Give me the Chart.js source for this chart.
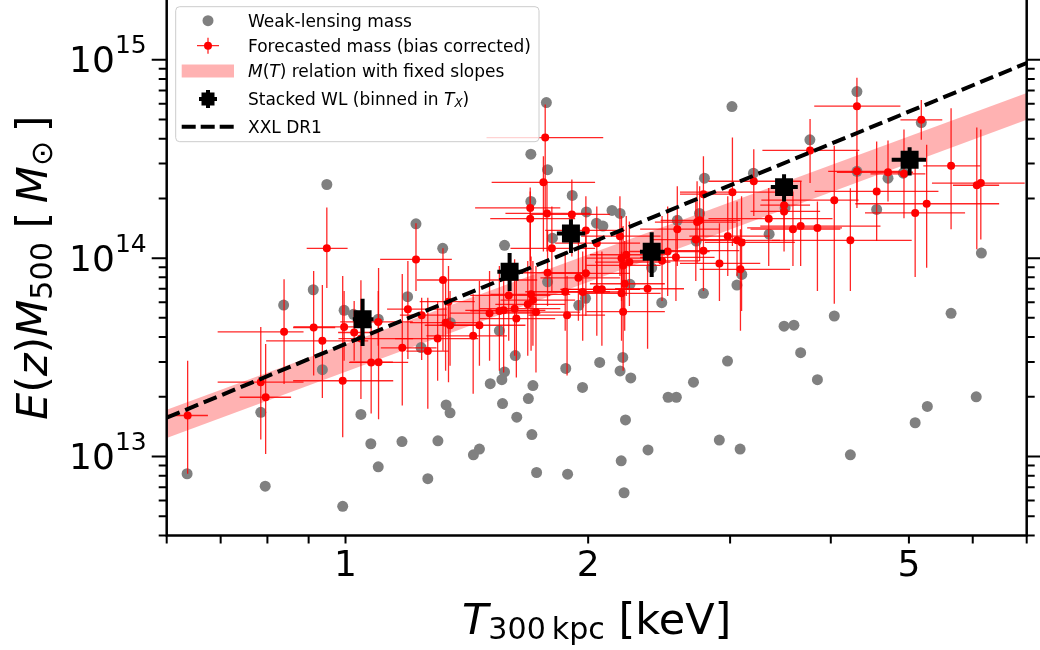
<!DOCTYPE html>
<html lang="en">
<head>
<meta charset="UTF-8">
<title>M-T relation</title>
<script src="https://cdn.jsdelivr.net/npm/chart.js"></script>
<style>
  html, body { margin: 0; padding: 0; background: #fff; }
  canvas { display: block; }
</style>
</head>
<body>
<canvas id="mtChart" width="1040" height="650"></canvas>
<script>
// weak-lensing masses (grey)
const wlT = [1.775, 1.698, 1.781, 0.948, 1.698, 1.911, 1.990, 2.048, 1.223, 1.320,
  1.575, 1.806, 3.016, 4.31, 3.768, 5.18, 4.31, 4.71, 4.92, 2.788,
  3.207, 4.56, 2.141, 2.191, 2.086, 2.749, 2.580, 3.354, 2.723, 3.51,
  6.15, 2.398, 0.636, 0.795, 0.785, 0.838, 0.912, 0.936, 0.992, 0.996,
  1.023, 1.045, 1.075, 1.098, 1.098, 1.175, 1.194, 1.241, 1.265, 1.302,
  1.333, 1.348, 1.349, 1.441, 1.466, 1.512, 1.552, 1.563, 1.575, 1.566,
  1.624, 1.631, 1.686, 1.708, 1.703, 1.726, 1.781, 1.876, 1.886, 1.947,
  1.968, 1.985, 2.067, 2.208, 2.191, 2.259, 2.225, 2.198, 2.216, 2.373,
  2.254, 2.468, 2.513, 2.573, 2.702, 2.780, 2.909, 2.978, 3.059, 3.087,
  3.102, 3.50, 3.60, 3.67, 3.85, 4.04, 4.23, 5.09, 5.27, 5.64, 6.06];
const wlM = [6.08e14, 3.34e14, 2.79e14, 2.35e14, 1.93e14, 2.07e14, 1.71e14, 1.50e14, 1.49e14, 1.12e14,
  1.16e14, 1.26e14, 5.81e14, 6.91e14, 3.95e14, 4.82e14, 2.74e14, 2.53e14, 2.68e14, 2.53e14,
  2.68e14, 1.76e14, 1.74e14, 1.68e14, 1.45e14, 1.68e14, 1.55e14, 1.32e14, 1.22e14, 1.79e14,
  1.06e14, 8.94e13, 8.19e12, 7.09e12, 1.67e13, 5.80e13, 6.93e13, 2.74e13, 5.61e12, 5.46e13,
  5.21e13, 1.63e13, 1.16e13, 8.88e12, 4.92e13, 1.19e13, 6.39e13, 3.54e13, 7.73e12, 1.20e13,
  1.82e13, 1.66e13, 4.73e13, 1.02e13, 1.09e13, 2.33e13, 4.31e13, 2.44e13, 2.67e13, 1.85e13,
  3.23e13, 1.58e13, 1.96e13, 2.28e13, 1.29e13, 8.31e12, 7.60e13, 2.78e13, 8.15e12, 5.78e13,
  2.23e13, 6.27e13, 2.98e13, 3.16e13, 2.70e13, 2.49e13, 1.53e13, 9.51e12, 6.57e12, 1.08e13,
  7.38e13, 5.96e13, 1.99e13, 1.99e13, 2.37e13, 6.65e13, 1.21e13, 3.03e13, 7.32e13, 1.09e13,
  8.28e13, 4.54e13, 4.59e13, 3.34e13, 2.44e13, 5.11e13, 1.02e13, 1.48e13, 1.79e13, 5.27e13, 2.00e13];

// forecasted masses (red) with error bar ends
const fcT = [0.637, 0.785, 0.796, 0.839, 0.913, 0.936, 0.992, 0.996, 1.025, 1.045,
  1.076, 1.099, 1.098, 1.176, 1.195, 1.223, 1.243, 1.265, 1.301, 1.321,
  1.331, 1.342, 1.348, 1.440, 1.466, 1.509, 1.552, 1.571, 1.621, 1.594,
  1.629, 1.683, 1.699, 1.708, 1.723, 1.781, 1.873, 1.883, 1.945, 1.969,
  1.987, 2.050, 0.948, 1.769, 1.760, 1.695, 1.695, 1.778, 1.909, 1.987,
  1.803, 4.31, 5.18, 3.77, 3.02, 3.21, 4.31, 4.71, 4.93, 5.64,
  6.07, 6.14, 4.56, 5.09, 5.26, 4.04, 4.23, 3.85, 3.67, 3.59,
  3.35, 3.50, 3.50, 2.78, 2.75, 2.73, 2.58, 2.72, 2.98, 3.06,
  3.10, 2.78, 2.51, 2.57, 2.47, 2.91, 3.09,
  2.05, 2.19, 2.20, 2.23, 2.25, 2.21,
  2.22, 2.20, 2.21, 2.08, 2.37];
const fcM = [1.61e13, 2.37e13, 1.99e13, 4.25e13, 4.47e13, 3.83e13, 2.41e13, 4.50e13, 4.22e13, 3.93e13,
  2.98e13, 2.99e13, 4.77e13, 3.53e13, 5.53e13, 9.85e13, 5.16e13, 3.40e13, 3.93e13, 7.76e13,
  4.73e13, 6.03e13, 4.59e13, 4.06e13, 4.59e13, 5.28e13, 5.42e13, 5.46e13, 5.56e13, 6.49e13,
  4.96e13, 5.85e13, 6.57e13, 6.15e13, 5.35e13, 8.44e13, 6.77e13, 5.16e13, 7.96e13, 6.75e13,
  8.38e13, 6.96e13, 1.12e14, 4.05e14, 2.41e14, 1.79e14, 1.58e14, 1.68e14, 1.66e14, 1.38e14,
  1.12e14, 5.83e14, 4.98e14, 3.49e14, 2.15e14, 2.44e14, 2.74e14, 2.71e14, 2.66e14, 2.92e14,
  2.33e14, 2.39e14, 2.17e14, 1.69e14, 1.88e14, 1.96e14, 1.23e14, 1.42e14, 1.45e14, 1.40e14,
  1.58e14, 1.85e14, 1.72e14, 2.10e14, 1.55e14, 1.52e14, 1.40e14, 1.24e14, 1.29e14, 1.23e14,
  1.20e14, 1.09e14, 1.08e14, 1.01e14, 9.69e13, 9.40e13, 8.78e13,
  1.19e14, 1.29e14, 1.00e14, 1.04e14, 9.55e13, 9.19e13,
  7.43e13, 6.65e13, 5.37e13, 6.96e13, 7.01e13];
const fcTlo = [0.600, 0.694, 0.739, 0.694, 0.861, 0.797, 0.861, 0.862, 0.979, 0.980,
  1.010, 1.013, 0.985, 1.106, 1.126, 1.104, 1.168, 1.190, 1.152, 1.226,
  1.202, 1.236, 1.254, 1.260, 1.310, 1.348, 1.428, 1.408, 1.468, 1.428,
  1.468, 1.534, 1.512, 1.557, 1.548, 1.579, 1.671, 1.686, 1.745, 1.784,
  1.769, 1.847, 0.895, 1.496, 1.518, 1.448, 1.512, 1.579, 1.695, 1.769,
  1.602, 3.815, 4.88, 3.29, 2.60, 2.82, 3.97, 4.07, 4.48, 5.21,
  5.67, 5.34, 3.82, 4.41, 4.29, 3.28, 3.38, 3.15, 3.27, 3.18,
  2.82, 3.27, 3.18, 2.60, 2.46, 2.42, 2.32, 2.39, 2.67, 2.75,
  2.79, 2.51, 2.25, 2.32, 2.22, 2.60, 2.75,
  1.82, 1.96, 1.99, 2.01, 2.04, 1.99,
  2.01, 1.96, 1.99, 1.85, 2.16];
const fcThi = [0.675, 0.887, 0.856, 0.887, 0.971, 1.067, 1.146, 1.062, 1.097, 1.213,
  1.196, 1.145, 1.212, 1.297, 1.335, 1.355, 1.335, 1.343, 1.461, 1.729,
  1.468, 1.447, 1.468, 1.586, 1.672, 1.745, 1.720, 1.770, 1.847, 1.795,
  1.820, 1.873, 1.900, 1.927, 1.955, 2.012, 2.129, 2.099, 2.190, 2.221,
  2.253, 2.319, 1.006, 2.088, 2.040, 1.847, 1.927, 2.012, 2.129, 2.221,
  2.040, 4.88, 5.50, 4.34, 3.46, 3.68, 4.88, 5.06, 5.24, 6.13,
  6.47, 6.96, 5.44, 5.87, 6.47, 4.33, 5.04, 4.13, 4.61, 4.11,
  4.02, 3.77, 3.88, 3.05, 3.09, 3.05, 2.91, 3.13, 3.36, 3.46,
  3.61, 3.08, 2.83, 2.87, 2.75, 3.27, 3.56,
  2.32, 2.46, 2.46, 2.49, 2.53, 2.46,
  2.49, 2.46, 2.49, 2.32, 2.63];
const fcMlo = [8.2e12, 1.22e13, 1.03e13, 2.32e13, 2.56e13, 1.97e13, 1.25e13, 3.04e13, 3.04e13, 1.95e13,
  1.65e13, 1.54e13, 3.62e13, 1.81e13, 3.10e13, 6.83e13, 3.07e13, 1.74e13, 2.41e13, 3.41e13,
  2.71e13, 2.37e13, 2.87e13, 2.07e13, 2.87e13, 3.04e13, 2.71e13, 2.65e13, 3.22e13, 3.83e13,
  2.50e13, 3.22e13, 3.41e13, 3.62e13, 2.65e13, 5.74e13, 4.30e13, 2.56e13, 4.83e13, 3.83e13,
  5.11e13, 4.06e13, 7.07e13, 1.63e14, 1.08e14, 9.12e13, 9.66e13, 1.08e14, 1.02e14, 8.61e13,
  6.83e13, 1.79e14, 3.95e14, 2.39e14, 1.15e14, 1.63e14, 1.93e14, 1.93e14, 1.59e14, 1.40e14,
  1.11e14, 1.24e14, 1.22e14, 8.03e13, 8.94e13, 5.89e13, 6.83e13, 6.83e13, 9.12e13, 9.12e13,
  9.12e13, 1.22e14, 1.08e14, 1.29e14, 9.66e13, 9.44e13, 9.12e13, 7.67e13, 8.12e13, 8.12e13,
  5.42e13, 6.83e13, 6.44e13, 6.08e13, 6.08e13, 6.08e13, 4.30e13,
  7.24e13, 8.12e13, 6.08e13, 6.44e13, 5.74e13, 5.42e13,
  4.30e13, 3.83e13, 2.71e13, 3.62e13, 3.49e13];
const fcMhi = [3.04e13, 4.50e13, 3.69e13, 7.82e13, 8.61e13, 7.32e13, 8.12e13, 6.83e13, 6.08e13, 7.73e13,
  4.56e13, 8.91e13, 6.83e13, 8.31e13, 9.66e13, 1.50e14, 6.32e13, 6.32e13, 6.08e13, 1.12e14,
  7.67e13, 9.12e13, 6.83e13, 6.57e13, 7.67e13, 8.61e13, 9.12e13, 8.61e13, 9.88e13, 1.06e14,
  8.12e13, 9.66e13, 1.02e14, 9.66e13, 9.12e13, 1.37e14, 1.08e14, 8.12e13, 1.22e14, 1.08e14,
  1.29e14, 1.08e14, 1.80e14, 5.94e14, 3.26e14, 2.27e14, 2.17e14, 2.44e14, 2.49e14, 2.05e14,
  1.82e14, 8.12e14, 6.26e14, 5.03e14, 4.06e14, 3.54e14, 3.45e14, 3.92e14, 4.45e14, 5.69e14,
  4.55e14, 4.45e14, 3.87e14, 3.07e14, 3.73e14, 3.69e14, 2.25e14, 1.93e14, 2.44e14, 2.17e14,
  2.26e14, 2.58e14, 2.44e14, 3.26e14, 2.30e14, 2.44e14, 2.30e14, 1.93e14, 2.05e14, 1.93e14,
  2.05e14, 1.72e14, 1.82e14, 1.63e14, 1.63e14, 1.50e14, 1.40e14,
  1.82e14, 2.05e14, 1.63e14, 1.63e14, 1.53e14, 1.45e14,
  1.22e14, 1.08e14, 9.66e13, 1.08e14, 1.08e14];

// stacked WL, binned in T
const stT = [1.050, 1.598, 1.904, 2.398, 3.50, 5.01];
const stM = [4.92e13, 8.53e13, 1.33e14, 1.076e14, 2.28e14, 3.13e14];
const stTlo = [1.021, 1.543, 1.829, 2.319, 3.37, 4.76];
const stThi = [1.083, 1.661, 1.983, 2.489, 3.64, 5.25];
const stMlo = [3.61e13, 6.82e13, 1.06e14, 8.03e13, 1.93e14, 2.61e14];
const stMhi = [6.24e13, 1.06e14, 1.57e14, 1.35e14, 2.65e14, 3.62e14];

// M(T) band and XXL DR1 relation
const bandT = [0.6, 7];
const bandLo = [1.24e13, 4.99e14];
const bandHi = [1.72e13, 6.79e14];
const dr1T = [0.6, 7];
const dr1M = [1.57e13, 9.62e14];

const xTicks = [0.6, 0.7, 0.8, 0.9, 1, 2, 3, 4, 5, 6, 7];
const xTickLabels = [1, 2, 5];
const yTickLabels = [1e13, 1e14, 1e15];

// text runs: [text, style]  i = italic, r = roman, second letter s = subscript
const xTitle = [['T', 'i'], ['300\u2009kpc', 'rs'], [' [keV]', 'r']];
const yTitle = [['E', 'i'], ['(', 'r'], ['z', 'i'], [')', 'r'], ['M', 'i'], ['500', 'rs'],
  [' [\u2009', 'r'], ['M', 'i'], ['\u2299', 'rs'], ['\u2009]', 'r']];
const legendLabels = [
  [['Weak-lensing mass', 'r']],
  [['Forecasted mass (bias corrected)', 'r']],
  [['M', 'i'], ['(', 'r'], ['T', 'i'], [')', 'r'], [' relation with fixed slopes', 'r']],
  [['Stacked WL (binned in ', 'r'], ['T', 'i'], ['X', 'is'], [')', 'r']],
  [['XXL DR1', 'r']]
];

const FONT = '"DejaVu Sans", sans-serif';
const pts = (xs, ys) => xs.map((v, i) => ({ x: v, y: ys[i] }));

function runFont(st, size) {
  const fs = st[1] === 's' ? size * 0.7 : size;
  return (st[0] === 'i' ? 'italic ' : '') + fs + 'px ' + FONT;
}
function runsWidth(ctx, runs, size) {
  let w = 0;
  runs.forEach(([t, st]) => { ctx.font = runFont(st, size); w += ctx.measureText(t).width; });
  return w;
}
function drawRuns(ctx, runs, x, y, size) {
  let cx = x;
  runs.forEach(([t, st]) => {
    ctx.font = runFont(st, size);
    ctx.fillText(t, cx, y + (st[1] === 's' ? size * 0.12 : 0));
    cx += ctx.measureText(t).width;
  });
}

// error bars, drawn just under the markers of their dataset
const errorBars = {
  id: 'errorBars',
  beforeDatasetDraw(chart, args) {
    const ds = chart.data.datasets[args.index];
    if (!ds.err) return;
    const { ctx, chartArea: a } = chart;
    const xs = chart.scales.x, ys = chart.scales.y, e = ds.err;
    ctx.save();
    ctx.beginPath();
    ctx.rect(a.left, a.top, a.right - a.left, a.bottom - a.top);
    ctx.clip();
    ctx.strokeStyle = e.color;
    ctx.lineWidth = e.width;
    ds.data.forEach((p, i) => {
      const px = xs.getPixelForValue(p.x), py = ys.getPixelForValue(p.y);
      ctx.beginPath();
      ctx.moveTo(xs.getPixelForValue(e.tlo[i]), py);
      ctx.lineTo(xs.getPixelForValue(e.thi[i]), py);
      ctx.moveTo(px, ys.getPixelForValue(e.mlo[i]));
      ctx.lineTo(px, ys.getPixelForValue(e.mhi[i]));
      ctx.stroke();
    });
    ctx.restore();
  }
};

// frame, tick marks, y labels, axis titles, legend
const decor = {
  id: 'decor',
  afterDraw(chart) {
    const ctx = chart.ctx, a = chart.chartArea;
    const xs = chart.scales.x, ys = chart.scales.y;
    ctx.save();
    ctx.strokeStyle = '#000';
    ctx.fillStyle = '#000';

    ctx.lineWidth = 2;
    ctx.beginPath();
    xs.ticks.forEach(t => {
      const p = xs.getPixelForValue(t.value);
      ctx.moveTo(p, a.bottom); ctx.lineTo(p, a.bottom + 8);
    });
    ys.ticks.forEach(t => {
      const p = ys.getPixelForValue(t.value);
      if (p < 1) return;
      const l = Math.log10(t.value);
      const len = Math.abs(l - Math.round(l)) < 1e-6 ? 15 : 8;
      ctx.moveTo(a.left - len, p); ctx.lineTo(a.left, p);
      ctx.moveTo(a.right, p); ctx.lineTo(a.right + len, p);
    });
    ctx.stroke();

    ctx.lineWidth = 2.5;
    ctx.beginPath();
    ctx.moveTo(a.left, a.top); ctx.lineTo(a.left, a.bottom);
    ctx.lineTo(a.right, a.bottom); ctx.lineTo(a.right, a.top);
    ctx.stroke();

    ctx.textAlign = 'left';
    ctx.textBaseline = 'alphabetic';
    yTickLabels.forEach(v => {
      const p = ys.getPixelForValue(v);
      const exp = String(Math.round(Math.log10(v)));
      ctx.font = '36px ' + FONT; const w1 = ctx.measureText('10').width;
      ctx.font = '25px ' + FONT; const w2 = ctx.measureText(exp).width;
      const x0 = a.left - 20 - w1 - w2;
      ctx.font = '36px ' + FONT; ctx.fillText('10', x0, p + 12.5);
      ctx.font = '25px ' + FONT; ctx.fillText(exp, x0 + w1, p - 6.5);
    });

    const xw = runsWidth(ctx, xTitle, 43);
    drawRuns(ctx, xTitle, (a.left + a.right) / 2 - xw / 2, 634, 43);

    ctx.save();
    ctx.translate(46.7, (a.top + a.bottom) / 2);
    ctx.rotate(-Math.PI / 2);
    const yw = runsWidth(ctx, yTitle, 43);
    drawRuns(ctx, yTitle, -yw / 2, 0, 43);
    ctx.restore();

    // legend
    ctx.beginPath();
    ctx.roundRect(175.7, 6.7, 363.3, 135, 4);
    ctx.fillStyle = 'rgba(255,255,255,0.8)';
    ctx.fill();
    ctx.strokeStyle = '#cccccc';
    ctx.lineWidth = 1;
    ctx.stroke();

    const rows = [20.7, 45.7, 71, 99, 126.7], mx = 208;
    ctx.fillStyle = '#808080';
    ctx.beginPath(); ctx.arc(mx, rows[0], 5.5, 0, 2 * Math.PI); ctx.fill();

    ctx.strokeStyle = 'rgba(255,0,0,0.85)'; ctx.lineWidth = 1.3;
    ctx.beginPath();
    ctx.moveTo(mx - 11, rows[1]); ctx.lineTo(mx + 11, rows[1]);
    ctx.moveTo(mx, rows[1] - 8); ctx.lineTo(mx, rows[1] + 8);
    ctx.stroke();
    ctx.fillStyle = '#ff0000';
    ctx.beginPath(); ctx.arc(mx, rows[1], 4, 0, 2 * Math.PI); ctx.fill();

    ctx.fillStyle = 'rgba(255,0,0,0.3)';
    ctx.fillRect(181.7, rows[2] - 6.5, 52.3, 13);

    ctx.strokeStyle = '#000'; ctx.lineWidth = 4;
    ctx.beginPath();
    ctx.moveTo(mx - 9, rows[3]); ctx.lineTo(mx + 9, rows[3]);
    ctx.moveTo(mx, rows[3] - 9); ctx.lineTo(mx, rows[3] + 9);
    ctx.stroke();
    ctx.fillStyle = '#000';
    ctx.fillRect(mx - 6.5, rows[3] - 6.5, 13, 13);

    ctx.setLineDash([14, 5]);
    ctx.beginPath(); ctx.moveTo(181.7, rows[4]); ctx.lineTo(234, rows[4]); ctx.stroke();
    ctx.setLineDash([]);

    ctx.fillStyle = '#000';
    legendLabels.forEach((runs, i) => drawRuns(ctx, runs, 248, rows[i] + 6, 17));
    ctx.restore();
  }
};

new Chart(document.getElementById('mtChart'), {
  type: 'scatter',
  data: {
    datasets: [
      { label: 'Stacked WL (binned in Tx)', data: pts(stT, stM), pointStyle: 'rect', pointRadius: 12.7,
        backgroundColor: '#000', borderWidth: 0, order: 1,
        err: { tlo: stTlo, thi: stThi, mlo: stMlo, mhi: stMhi, color: '#000', width: 4 } },
      { type: 'line', label: 'XXL DR1', data: pts(dr1T, dr1M), borderColor: '#000', borderWidth: 4,
        borderDash: [14, 6], pointRadius: 0, fill: false, tension: 0, order: 2 },
      { label: 'Forecasted mass (bias corrected)', data: pts(fcT, fcM), pointRadius: 4,
        backgroundColor: '#ff0000', borderWidth: 0, order: 3,
        err: { tlo: fcTlo, thi: fcThi, mlo: fcMlo, mhi: fcMhi, color: 'rgba(255,0,0,0.85)', width: 1.3 } },
      { label: 'Weak-lensing mass', data: pts(wlT, wlM), pointRadius: 5.5,
        backgroundColor: '#808080', borderWidth: 0, order: 4 },
      { type: 'line', label: 'band low', data: pts(bandT, bandLo), borderColor: 'rgba(0,0,0,0)',
        borderWidth: 0, pointRadius: 0, fill: false, order: 6 },
      { type: 'line', label: 'M(T) relation with fixed slopes', data: pts(bandT, bandHi), borderColor: 'rgba(0,0,0,0)',
        borderWidth: 0, pointRadius: 0, fill: '-1', backgroundColor: 'rgba(255,0,0,0.3)', order: 5 }
    ]
  },
  options: {
    responsive: false,
    animation: false,
    events: [],
    layout: { autoPadding: false, padding: { left: 0, right: 13.3, top: 0, bottom: 0 } },
    plugins: { legend: { display: false }, tooltip: { enabled: false } },
    scales: {
      x: {
        type: 'logarithmic', position: 'bottom', min: 0.6, max: 7,
        grid: { display: false, drawTicks: false }, border: { display: false },
        afterBuildTicks: s => { s.ticks = xTicks.map(v => ({ value: v })); },
        afterFit: s => { s.height = 114.5; },
        ticks: {
          autoSkip: false, maxRotation: 0, minRotation: 0, padding: 10, color: '#000',
          font: { family: 'DejaVu Sans', size: 36 },
          callback: v => xTickLabels.includes(v) ? String(v) : ''
        }
      },
      y: {
        type: 'logarithmic', position: 'left', min: 4e12, max: 2e15,
        grid: { display: false, drawTicks: false }, border: { display: false },
        afterBuildTicks: s => {
          const t = [];
          for (let e = 12; e <= 15; e++) {
            for (let m = 1; m < 10; m++) {
              const v = m * Math.pow(10, e);
              if (v >= 4e12 * 0.999 && v <= 2e15 * 1.001) t.push({ value: v });
            }
          }
          s.ticks = t;
        },
        afterFit: s => { s.width = 166.7; },
        ticks: { display: false }
      }
    }
  },
  plugins: [errorBars, decor]
});
</script>
</body>
</html>
